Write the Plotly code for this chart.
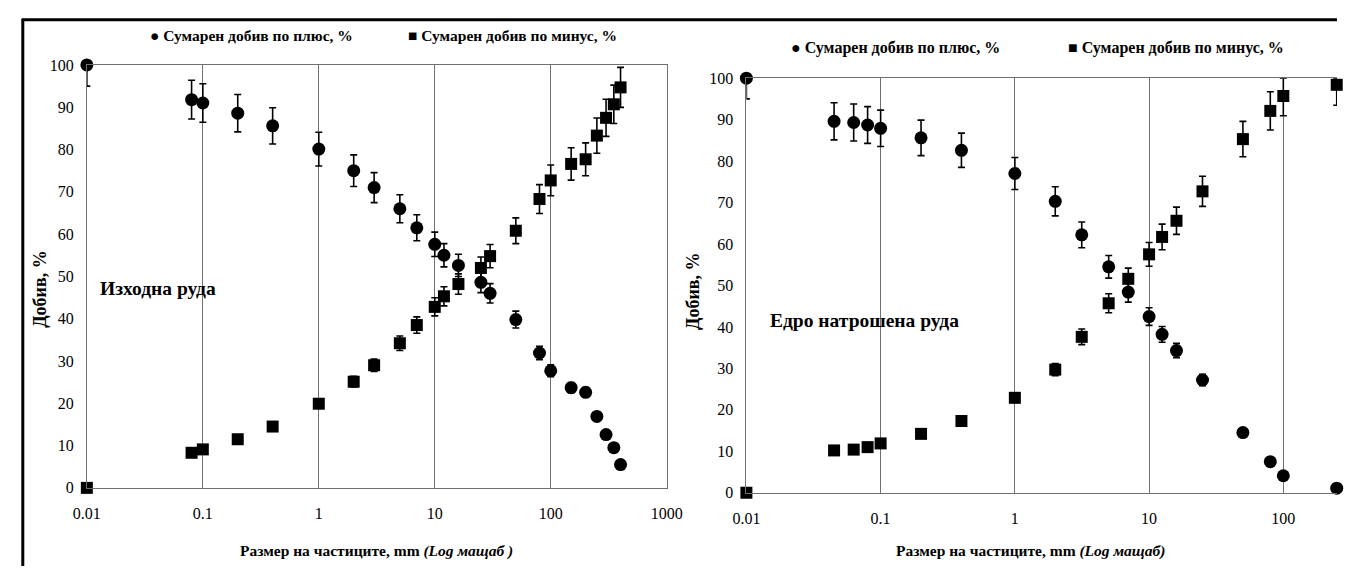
import plotly.graph_objects as go

W, H = 1353, 575

# ---------------- data ----------------
# Left panel: "Изходна руда"
L_SIZE = [0.01, 0.08, 0.1, 0.2, 0.4, 1, 2, 3, 5, 7, 10, 12, 16, 25, 30, 50, 80, 100, 150, 200, 250, 300, 350, 400]
L_PLUS = [100, 91.8, 91.0, 88.6, 85.6, 80.1, 75.0, 71.0, 66.0, 61.5, 57.6, 55.0, 52.6, 48.6, 46.0, 39.8, 31.9, 27.7, 23.7, 22.6, 16.9, 12.6, 9.5, 5.5]
L_MINUS = [0, 8.3, 9.1, 11.5, 14.5, 19.9, 25.1, 29.0, 34.2, 38.5, 42.8, 45.3, 48.2, 52.0, 54.8, 60.8, 68.3, 72.7, 76.6, 77.7, 83.3, 87.5, 90.7, 94.7]

# Right panel: "Едро натрошена руда"
R_SIZE = [0.01, 0.045, 0.063, 0.08, 0.1, 0.2, 0.4, 1, 2, 3.15, 5, 7, 10, 12.5, 16, 25, 50, 80, 100, 250]
R_PLUS = [100, 89.6, 89.3, 88.7, 87.9, 85.6, 82.6, 77.0, 70.3, 62.2, 54.5, 48.4, 42.5, 38.2, 34.3, 27.2, 14.5, 7.5, 4.1, 1.1]
R_MINUS = [0, 10.2, 10.4, 11.0, 11.9, 14.2, 17.3, 22.9, 29.7, 37.6, 45.7, 51.6, 57.5, 61.7, 65.6, 72.7, 85.3, 92.1, 95.7, 98.4]

ERR_PCT = 5  # error bars, % of value
Y_MAX = 100

X_TICKS = [0.01, 0.1, 1, 10, 100, 1000]
X_TICK_TEXT = ["0.01", "0.1", "1", "10", "100", "1000"]

LEG_PLUS = "Сумарен добив по плюс, %"
LEG_MINUS = "Сумарен добив по минус, %"
Y_TITLE = "Добив, %"
X_TITLE_L = "Размер на частиците, mm <i>(Log мащаб )</i>"
X_TITLE_R = "Размер на частиците, mm <i>(Log мащаб)</i>"
LABEL_L = "Изходна руда"
LABEL_R = "Едро натрошена руда"

FONT = "Liberation Serif"


def px_x(p):
    return p / W


def px_y(p):
    return 1 - p / H


def err(vals):
    up = [min(v * ERR_PCT / 100, Y_MAX - v) for v in vals]
    dn = [min(v * ERR_PCT / 100, v) for v in vals]
    return dict(type="data", symmetric=False, array=up, arrayminus=dn,
                color="black", thickness=1.6, width=3.5)


fig = go.Figure()


def add_series(x, y, sym, size, xa, ya):
    fig.add_trace(go.Scatter(
        x=x, y=y, mode="markers", xaxis=xa, yaxis=ya,
        marker=dict(symbol=sym, size=size, color="black"),
        error_y=err(y), cliponaxis=False, showlegend=False))


add_series(L_SIZE, L_PLUS, "circle", 13, "x", "y")
add_series(L_SIZE, L_MINUS, "square", 12, "x", "y")
add_series(R_SIZE, R_PLUS, "circle", 13, "x2", "y2")
add_series(R_SIZE, R_MINUS, "square", 12, "x2", "y2")

tickfont = dict(family=FONT, size=16, color="black")
GRID = "#707070"


def xaxis(domain, rng, anchor, mirror=True):
    return dict(type="log", domain=domain, range=rng, anchor=anchor,
                tickvals=X_TICKS, ticktext=X_TICK_TEXT, ticks="",
                showgrid=True, gridcolor=GRID, gridwidth=1,
                showline=True, linecolor=GRID, linewidth=1, mirror=mirror,
                tickfont=tickfont, ticklabelstandoff=11, zeroline=False)


def yaxis(domain, anchor, mirror):
    return dict(domain=domain, range=[0, Y_MAX], dtick=10, anchor=anchor,
                showgrid=False, zeroline=False, ticks="",
                showline=True, linecolor=GRID, linewidth=1, mirror=mirror,
                tickfont=tickfont, ticklabelstandoff=9)


fig.update_layout(
    width=W, height=H,
    margin=dict(l=0, r=0, t=0, b=0),
    paper_bgcolor="white", plot_bgcolor="white",
    font=dict(family=FONT, color="black"),
    xaxis=xaxis([px_x(74.5), px_x(667.5)], [-2, 3], "y"),
    yaxis=yaxis([px_y(494.5), px_y(58.7)], "x", True),
    xaxis2=xaxis([px_x(749), 1.0], [-2, 2.4], "y2", mirror=True),
    yaxis2=yaxis([px_y(499.5), px_y(72.3)], "x2", False),
)

ann = []


def text(x, y, s, size, bold=True, angle=0, xanchor="center"):
    ann.append(dict(xref="paper", yref="paper", x=px_x(x), y=px_y(y), text=(f"<b>{s}</b>" if bold else s),
                    showarrow=False, font=dict(family=FONT, size=size, color="black"),
                    textangle=angle, xanchor=xanchor, yanchor="middle"))


# legends
text(137, 28, "\u25CF " + LEG_PLUS, 15.5, xanchor="left")
text(401, 28, "\u25A0 " + LEG_MINUS, 15.5, xanchor="left")
text(793, 41, "\u25CF " + LEG_PLUS, 16, xanchor="left")
text(1076, 41, "\u25A0 " + LEG_MINUS, 16, xanchor="left")

# axis titles
text(27, 290, Y_TITLE, 18, angle=-90)
text(695, 292, Y_TITLE, 18, angle=-90)
text(371, 560, X_TITLE_L, 15.5)
text(1040, 560, X_TITLE_R, 15.5)

# panel labels
text(86, 289, LABEL_L, 19.5, bold=True, xanchor="left")
text(771, 322, LABEL_R, 19.5, bold=True, xanchor="left")

fig.update_layout(annotations=ann)

# outer frame
fig.add_shape(type="line", xref="paper", yref="paper", x0=px_x(8), x1=1.0, y0=px_y(12), y1=px_y(12),
              line=dict(color="black", width=3))
fig.add_shape(type="line", xref="paper", yref="paper", x0=px_x(9), x1=px_x(9), y0=px_y(11), y1=0,
              line=dict(color="black", width=3))

fig.write_html("out.html")
